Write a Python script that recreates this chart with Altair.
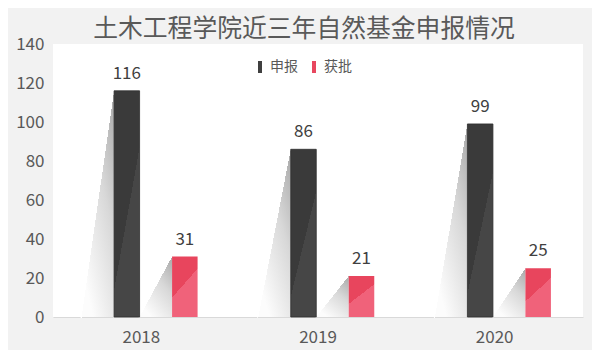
import altair as alt
import pandas as pd

years = ["2018", "2019", "2020"]
series_names = ["申报", "获批"]
apply_counts = [116, 86, 99]
approved_counts = [31, 21, 25]
y_ticks = [0, 20, 40, 60, 80, 100, 120, 140]
title_text = "土木工程学院近三年自然基金申报情况"

rows = []
for i, yr in enumerate(years):
    rows.append({"year": yr, "series": series_names[0], "value": apply_counts[i]})
    rows.append({"year": yr, "series": series_names[1], "value": approved_counts[i]})
df = pd.DataFrame(rows)

FONT = "Noto Sans CJK SC"
slot_domain = ["p1", "s1", series_names[0], "s2", series_names[1], "p2"]
shadow_domain = ["s1", "s2"]

x_enc = alt.X("year:N", sort=years,
              scale=alt.Scale(paddingInner=0, paddingOuter=0),
              axis=alt.Axis(title=None, labelAngle=0, ticks=False, tickSize=0,
                            labelPadding=12, labelFontSize=17, labelColor="#595959",
                            labelFont=FONT, domainColor="#d9d9d9", domainWidth=1))
y_enc = alt.Y("value:Q", scale=alt.Scale(domain=[0, 140], nice=False),
              axis=alt.Axis(title=None, values=y_ticks, grid=False, domain=False,
                            ticks=False, tickSize=0, labelPadding=9, labelFontSize=17,
                            labelColor="#595959", labelFont=FONT))
# bars: step 29px, bar 25.5px
off_scale = alt.Scale(type="band", domain=slot_domain, paddingInner=0.12,
                      paddingOuter=0.106)
# shadows: 32.5px wide, ending where each bar starts
shadow_scale = alt.Scale(type="band", domain=shadow_domain, paddingInner=0.44,
                         paddingOuter=0.743, align=0.332)


def grad(stops, x1, y1, x2, y2):
    return alt.LinearGradient(
        gradient="linear",
        stops=[alt.GradientStop(color=c, offset=o) for c, o in stops],
        x1=x1, y1=y1, x2=x2, y2=y2)


mask_grad = grad([("#ffffff", 0), ("#ffffff", 0.5),
                  ("rgba(255,255,255,0)", 0.5), ("rgba(255,255,255,0)", 1)], 0, 0, 1, 1)

base = alt.Chart(df)

shadow_src = base.transform_calculate(
    pos="datum.series === '%s' ? 's1' : 's2'" % series_names[0])

shadow = shadow_src.mark_bar(
    fill=grad([("#a8a8a8", 0), ("#d8d8d8", 0.45), ("#fcfcfc", 1)], 1, 0, 0.35, 1),
).encode(x=x_enc, xOffset=alt.XOffset("pos:N", scale=shadow_scale), y=y_enc)

mask = shadow_src.mark_bar(
    fill=mask_grad, stroke=mask_grad, strokeWidth=2,
).encode(x=x_enc, xOffset=alt.XOffset("pos:N", scale=shadow_scale), y=y_enc)

dark = base.transform_filter(alt.datum.series == series_names[0]).mark_bar(
    fill=grad([("#3a3a3a", 0), ("#3a3a3a", 0.5), ("#464646", 0.5), ("#464646", 1)],
              0, 0, 0.794, 1.26),
    stroke="#2e2e2e", strokeWidth=0.8,
).encode(x=x_enc, xOffset=alt.XOffset("series:N", scale=off_scale), y=y_enc)

red = base.transform_filter(alt.datum.series == series_names[1]).mark_bar(
    fill=grad([("#e8455d", 0), ("#e8455d", 0.5), ("#f0627a", 0.5), ("#f0627a", 1)],
              0, 0, 0.531, 1.105),
).encode(x=x_enc, xOffset=alt.XOffset("series:N", scale=off_scale), y=y_enc)

labels = base.mark_text(
    baseline="alphabetic", dy=-12, fontSize=17, color="#404040", font=FONT
).encode(x=x_enc, xOffset=alt.XOffset("series:N", scale=off_scale), y=y_enc,
         text="value:Q")

legend_layer = base.mark_bar(opacity=0).encode(
    x=x_enc, xOffset=alt.XOffset("series:N", scale=off_scale), y=y_enc,
    color=alt.Color("series:N",
                    scale=alt.Scale(domain=series_names, range=["#404040", "#e8475f"]),
                    legend=alt.Legend(title=None, orient="none", legendX=200, legendY=16,
                                      direction="horizontal",
                                      symbolType="M-0.33,-1H0.33V1H-0.33Z",
                                      symbolSize=144, symbolOpacity=1,
                                      symbolStrokeWidth=0, labelFontSize=14,
                                      labelColor="#595959", labelFont=FONT,
                                      labelOffset=3, columnPadding=9)))

chart = alt.layer(shadow, mask, dark, red, labels, legend_layer).resolve_scale(
    xOffset="independent"
).properties(
    width=530, height=273,
    title=alt.TitleParams(text=title_text, fontSize=24.8, font=FONT, color="#595959",
                          fontWeight="normal", anchor="middle", dx=-14, dy=34,
                          offset=7, baseline="alphabetic"),
    autosize=alt.AutoSizeParams(type="none"),
    padding={"left": 45, "top": 36, "right": 9, "bottom": 33},
    background="#f2f2f2",
).configure_view(fill="white", stroke=None)

chart.save("out.html", embed_options={"renderer": "svg", "actions": False})
